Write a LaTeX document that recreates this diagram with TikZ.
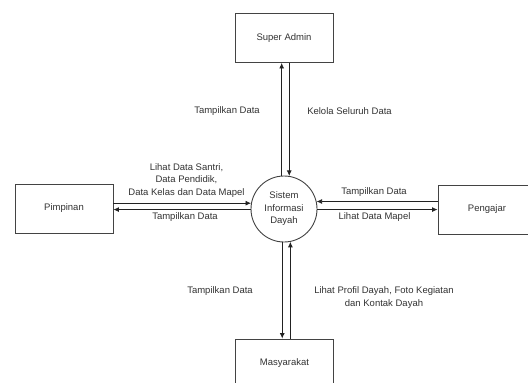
\documentclass[tikz,border=0pt]{standalone}
\usepackage{fontspec}
\setmainfont{Liberation Sans}
\usetikzlibrary{arrows.meta}
\definecolor{txt}{HTML}{333333}
\definecolor{ln}{HTML}{222222}
\begin{document}
\begin{tikzpicture}[x=1pt,y=-1pt,
  fnt/.style={font=\fontsize{9.5}{12.5}\selectfont},
  box/.style={fnt, draw=ln!85, line width=0.9pt, minimum width=98pt, minimum height=49pt, inner sep=0pt, text=txt},
  proc/.style={fnt, circle, draw=ln!85, line width=0.9pt, minimum size=66pt, inner sep=0pt, align=center, text=txt},
  lbl/.style={fnt, text=txt, align=center, inner sep=0pt},
  arr/.style={draw=ln, line width=0.8pt, -{Latex[length=5.5pt,width=5pt]}}]
\useasboundingbox (0,0) rectangle (528,383);
\fill[white] (0,0) rectangle (528,383);
% entities
\node[box] (sa) at (284,38) {Super Admin};
\node[box] (pim) at (64,208.5) {Pimpinan};
\node[box] (peng) at (487,209.5) {Pengajar};
\node[box] (mas) at (284.5,363.5) {Masyarakat};
% process
\node[proc] (c) at (284,209) {Sistem\\Informasi\\Dayah};
% flows: Super Admin
\draw[arr] (c.94) -- (c.94 |- sa.south);
\draw[arr] (c.81 |- sa.south) -- (c.81);
% flows: Pimpinan
\draw[arr] (pim.east |- c.170) -- (c.170);
\draw[arr] (c.181) -- (c.181 -| pim.east);
% flows: Pengajar
\draw[arr] (peng.west |- c.13) -- (c.13);
\draw[arr] (c.359) -- (c.359 -| peng.west);
% flows: Masyarakat
\draw[arr] (c.267) -- (c.267 |- mas.north);
\draw[arr] (c.281 |- mas.north) -- (c.281);
% labels
\node[lbl] (l1) at (227,111) {Tampilkan Data};
\node[lbl] (l2) at (349.5,111) {Kelola Seluruh Data};
\node[lbl] (l3) at (186.5,180.5) {Lihat Data Santri,\\Data Pendidik,\\Data Kelas dan Data Mapel};
\node[lbl] (l4) at (185,217) {Tampilkan Data};
\node[lbl] (l5) at (374,192) {Tampilkan Data};
\node[lbl] (l6) at (374.5,217) {Lihat Data Mapel};
\node[lbl] (l7) at (220,291) {Tampilkan Data};
\node[lbl] (l8) at (384,297.5) {Lihat Profil Dayah, Foto Kegiatan\\dan Kontak Dayah};
\end{tikzpicture}
\end{document}
